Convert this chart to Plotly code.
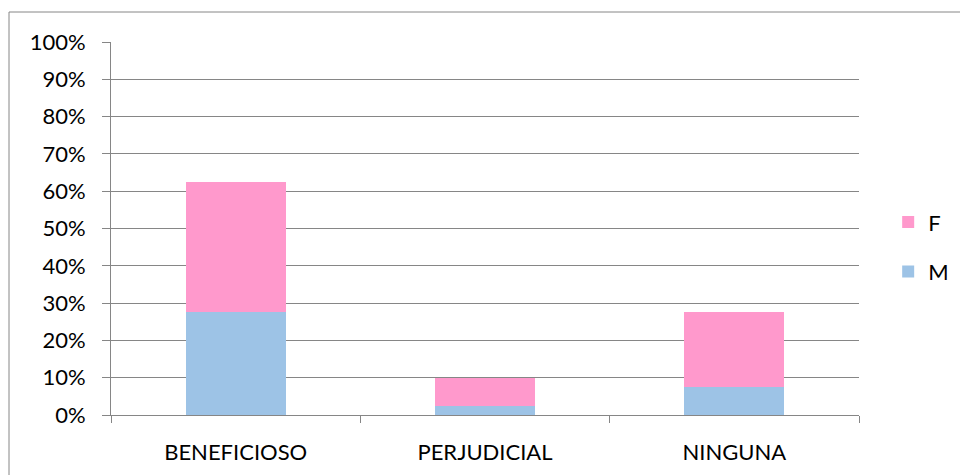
import plotly.graph_objects as go

categories = ["BENEFICIOSO", "PERJUDICIAL", "NINGUNA"]
m_values = [0.275, 0.025, 0.075]
f_values = [0.35, 0.075, 0.20]
y_ticks = [i / 10 for i in range(11)]
y_tick_labels = [f"{i * 10}%" for i in range(11)]

FONT = "Lato, 'Open Sans', sans-serif"
GRID = "#868686"

fig = go.Figure()
fig.add_trace(go.Bar(
    x=categories, y=m_values, name="M",
    marker=dict(color="#9DC3E6", line=dict(width=0)),
    width=0.4, legendgroup="m", legendrank=2,
))
fig.add_trace(go.Bar(
    x=categories, y=f_values, name="F",
    marker=dict(color="#FF99CC", line=dict(width=0)),
    width=0.4, legendgroup="f", legendrank=1,
))

W, H = 960, 475
L, R, T, B = 111, 101, 42, 60
pw, ph = W - L - R, H - T - B

# outer chart frame (only top and left edges fall inside the canvas)
fig.add_shape(
    type="rect", xref="paper", yref="paper",
    x0=(9 - L) / pw, x1=1.3, y0=-0.5, y1=(H - B - 12) / ph,
    line=dict(color=GRID, width=1), fillcolor="rgba(0,0,0,0)", layer="below",
)

fig.update_layout(
    width=W, height=H,
    margin=dict(l=L, r=R, t=T, b=B, pad=0, autoexpand=False),
    barmode="stack",
    paper_bgcolor="white", plot_bgcolor="white",
    font=dict(family=FONT, size=22, color="#000000"),
    bargap=0.6,
    legend=dict(
        x=1.039, xanchor="left", y=0.45, yanchor="middle",
        traceorder="grouped", tracegroupgap=18,
        font=dict(size=22), itemwidth=30,
        bgcolor="rgba(0,0,0,0)",
    ),
    showlegend=True,
)
fig.update_xaxes(
    type="category", tickson="boundaries",
    showline=True, linecolor=GRID, linewidth=1,
    ticks="outside", ticklen=7, tickcolor=GRID, tickwidth=1,
    showgrid=False, ticklabelstandoff=18,
    tickfont=dict(size=22),
)
fig.update_yaxes(
    range=[0, 1], tickvals=y_ticks, ticktext=y_tick_labels,
    showline=True, linecolor=GRID, linewidth=1,
    showgrid=True, gridcolor=GRID, gridwidth=1,
    ticks="outside", ticklen=8, tickcolor=GRID, tickwidth=1,
    ticklabelstandoff=12, zeroline=False,
    tickfont=dict(size=22),
)

fig.write_html("out.html")
